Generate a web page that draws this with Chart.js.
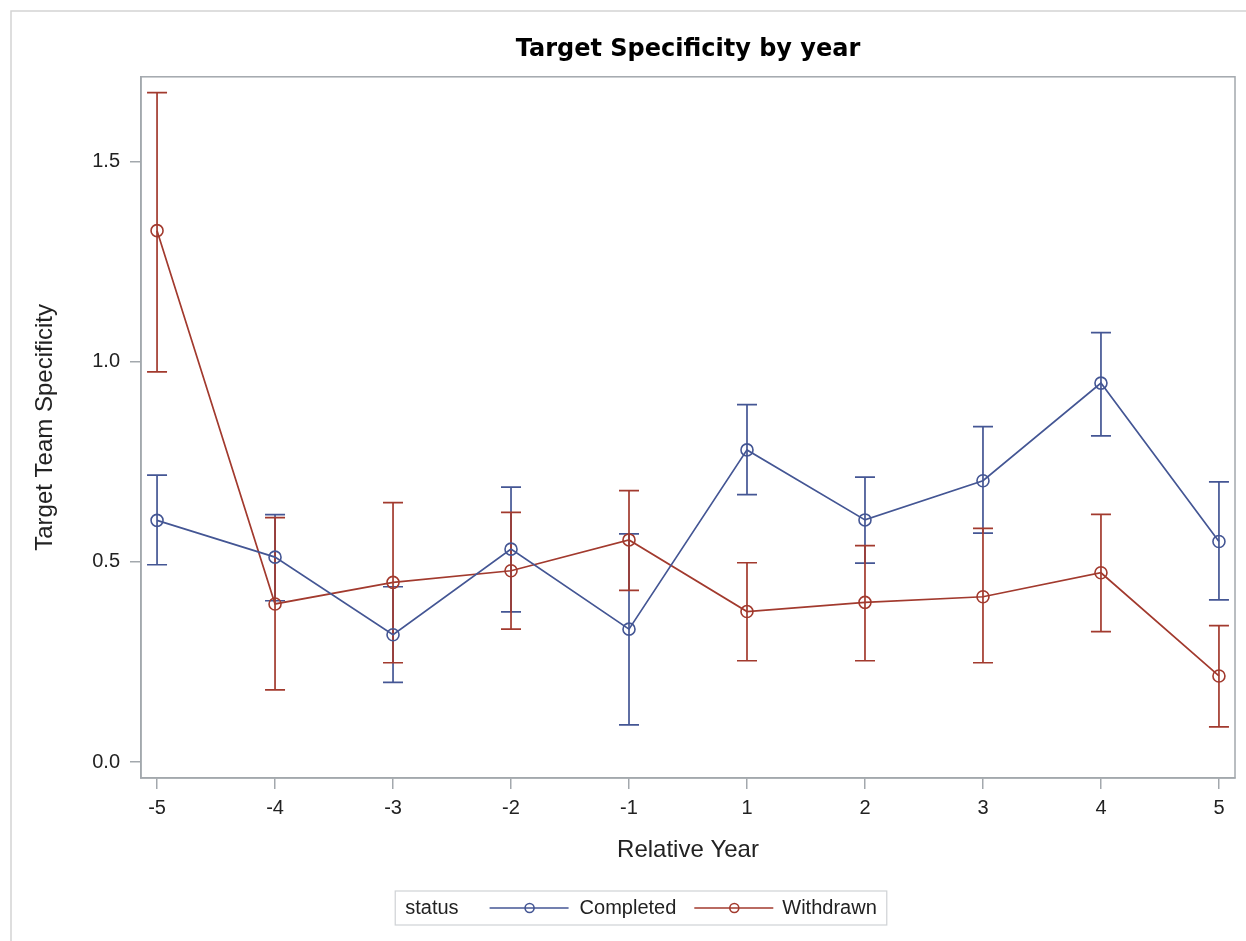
<!DOCTYPE html>
<html>
<head>
<meta charset="utf-8">
<script src="https://cdn.jsdelivr.net/npm/chart.js@4/dist/chart.umd.min.js"></script>
<style>
  body { margin: 0; background: #fff; }
  #wrap { position: relative; width: 1246px; height: 941px; }
</style>
</head>
<body>
<div id="wrap"><canvas id="chart" width="1246" height="941"></canvas></div>
<script>
// relative years (no year 0)
const categories = ['-5', '-4', '-3', '-2', '-1', '1', '2', '3', '4', '5'];
const yTicks = [0, 0.5, 1.0, 1.5];

const completedMean  = [0.604, 0.512, 0.318, 0.532, 0.332, 0.780, 0.605, 0.703, 0.947, 0.551];
const completedLower = [0.493, 0.403, 0.199, 0.375, 0.093, 0.668, 0.497, 0.572, 0.815, 0.405];
const completedUpper = [0.717, 0.618, 0.438, 0.687, 0.570, 0.893, 0.712, 0.838, 1.073, 0.700];

const withdrawnMean  = [1.328, 0.395, 0.449, 0.478, 0.555, 0.376, 0.399, 0.413, 0.473, 0.215];
const withdrawnLower = [0.975, 0.180, 0.248, 0.332, 0.429, 0.253, 0.253, 0.248, 0.326, 0.088];
const withdrawnUpper = [1.673, 0.611, 0.648, 0.624, 0.678, 0.498, 0.541, 0.584, 0.619, 0.341];

const BLUE = '#445694';
const RED = '#a23a2e';
const AXIS = '#a3a8ad';
const FONT = "'Liberation Sans', Arial, sans-serif";

const toPoints = vals => vals.map((v, i) => ({ x: i, y: v }));

// vertical error bars with caps, drawn under the markers
const errorBars = {
    id: 'errorBars',
    beforeDatasetsDraw(chart) {
        const { ctx, scales: { x, y } } = chart;
        ctx.save();
        chart.data.datasets.forEach(ds => {
            ctx.strokeStyle = ds.borderColor;
            ctx.lineWidth = 1.7;
            ds.lower.forEach((lo, i) => {
                const px = x.getPixelForValue(i);
                const yl = y.getPixelForValue(lo);
                const yh = y.getPixelForValue(ds.upper[i]);
                ctx.beginPath();
                ctx.moveTo(px, yl); ctx.lineTo(px, yh);
                ctx.moveTo(px - 10, yl); ctx.lineTo(px + 10, yl);
                ctx.moveTo(px - 10, yh); ctx.lineTo(px + 10, yh);
                ctx.stroke();
            });
        });
        ctx.restore();
    }
};

// plot frame + outer graph frame
const frame = {
    id: 'frame',
    afterDraw(chart) {
        const { ctx, chartArea: a } = chart;
        ctx.save();
        ctx.strokeStyle = AXIS;
        ctx.lineWidth = 1.5;
        ctx.strokeRect(a.left, a.top, a.right - a.left, a.bottom - a.top);
        ctx.strokeStyle = '#d4d4d4';
        ctx.beginPath();
        ctx.moveTo(11, chart.height); ctx.lineTo(11, 11); ctx.lineTo(chart.width, 11);
        ctx.stroke();
        ctx.restore();
    }
};

// SAS style legend box: "status  —o— Completed  —o— Withdrawn"
const sasLegend = {
    id: 'sasLegend',
    afterDraw(chart) {
        const { ctx } = chart;
        const cy = 908, boxTop = 891, boxH = 34;
        ctx.save();
        ctx.font = '20px ' + FONT;
        ctx.textBaseline = 'middle';
        const items = chart.data.datasets.map(ds => ({ label: ds.label, color: ds.borderColor }));
        const wStatus = ctx.measureText('status').width;
        let total = 10 + wStatus;
        items.forEach((it, k) => {
            it.w = ctx.measureText(it.label).width;
            total += (k === 0 ? 31 : 18) + 79 + (k === 0 ? 11 : 9) + it.w;
        });
        total += 10;
        let x = 641 - total / 2;
        ctx.strokeStyle = '#cfd2d5';
        ctx.lineWidth = 1.2;
        ctx.strokeRect(x, boxTop, total, boxH);
        ctx.fillStyle = '#222';
        ctx.fillText('status', x + 10, cy);
        x += 10 + wStatus;
        items.forEach((it, k) => {
            x += k === 0 ? 31 : 18;
            ctx.strokeStyle = it.color;
            ctx.lineWidth = 1.6;
            ctx.beginPath(); ctx.moveTo(x, cy); ctx.lineTo(x + 79, cy); ctx.stroke();
            ctx.beginPath(); ctx.arc(x + 40, cy, 4.5, 0, Math.PI * 2); ctx.stroke();
            x += 79 + (k === 0 ? 11 : 9);
            ctx.fillStyle = '#222';
            ctx.fillText(it.label, x, cy);
            x += it.w;
        });
        ctx.restore();
    }
};

const lineDataset = (label, color, mean, lower, upper) => ({
    label,
    data: toPoints(mean),
    lower, upper,
    borderColor: color,
    borderWidth: 1.7,
    pointStyle: 'circle',
    pointRadius: 6,
    pointBorderWidth: 1.6,
    pointBackgroundColor: 'rgba(0,0,0,0)',
    pointBorderColor: color,
    tension: 0
});

new Chart(document.getElementById('chart'), {
    type: 'line',
    data: {
        datasets: [
            lineDataset('Completed', BLUE, completedMean, completedLower, completedUpper),
            lineDataset('Withdrawn', RED, withdrawnMean, withdrawnLower, withdrawnUpper)
        ]
    },
    options: {
        responsive: false,
        animation: false,
        devicePixelRatio: 1,
        layout: { padding: { left: 0, right: 11, top: 0, bottom: 63 } },
        plugins: {
            legend: { display: false },
            tooltip: { enabled: false },
            title: {
                display: true,
                fullSize: false,
                text: 'Target Specificity by year',
                color: '#000',
                font: { family: "'DejaVu Sans', sans-serif", size: 24, weight: 'bold' },
                padding: { top: 35, bottom: 13 }
            }
        },
        scales: {
            x: {
                type: 'linear',
                min: -0.136,
                max: 9.136,
                afterBuildTicks: s => { s.ticks = categories.map((c, i) => ({ value: i })); },
                afterFit: s => { s.height = 100; },
                ticks: {
                    callback: v => categories[v],
                    color: '#222',
                    font: { family: FONT, size: 20 },
                    padding: 7,
                    maxRotation: 0,
                    autoSkip: false
                },
                grid: { drawOnChartArea: false, tickLength: 11, color: AXIS, lineWidth: 1.5 },
                border: { color: AXIS, width: 1.5 },
                title: {
                    display: true,
                    text: 'Relative Year',
                    color: '#222',
                    font: { family: FONT, size: 24 },
                    padding: { top: 0, bottom: 13.6 }
                }
            },
            y: {
                min: -0.04,
                max: 1.7125,
                afterBuildTicks: s => { s.ticks = yTicks.map(v => ({ value: v })); },
                afterFit: s => { s.width = 141; },
                ticks: {
                    callback: v => v.toFixed(1),
                    color: '#222',
                    font: { family: FONT, size: 20 },
                    padding: 10
                },
                grid: { drawOnChartArea: false, tickLength: 11, color: AXIS, lineWidth: 1.5 },
                border: { color: AXIS, width: 1.5 },
                title: {
                    display: true,
                    text: 'Target Team Specificity',
                    color: '#222',
                    font: { family: FONT, size: 24 },
                    padding: { top: 31, bottom: 0 }
                }
            }
        }
    },
    plugins: [errorBars, frame, sasLegend]
});
</script>
</body>
</html>
